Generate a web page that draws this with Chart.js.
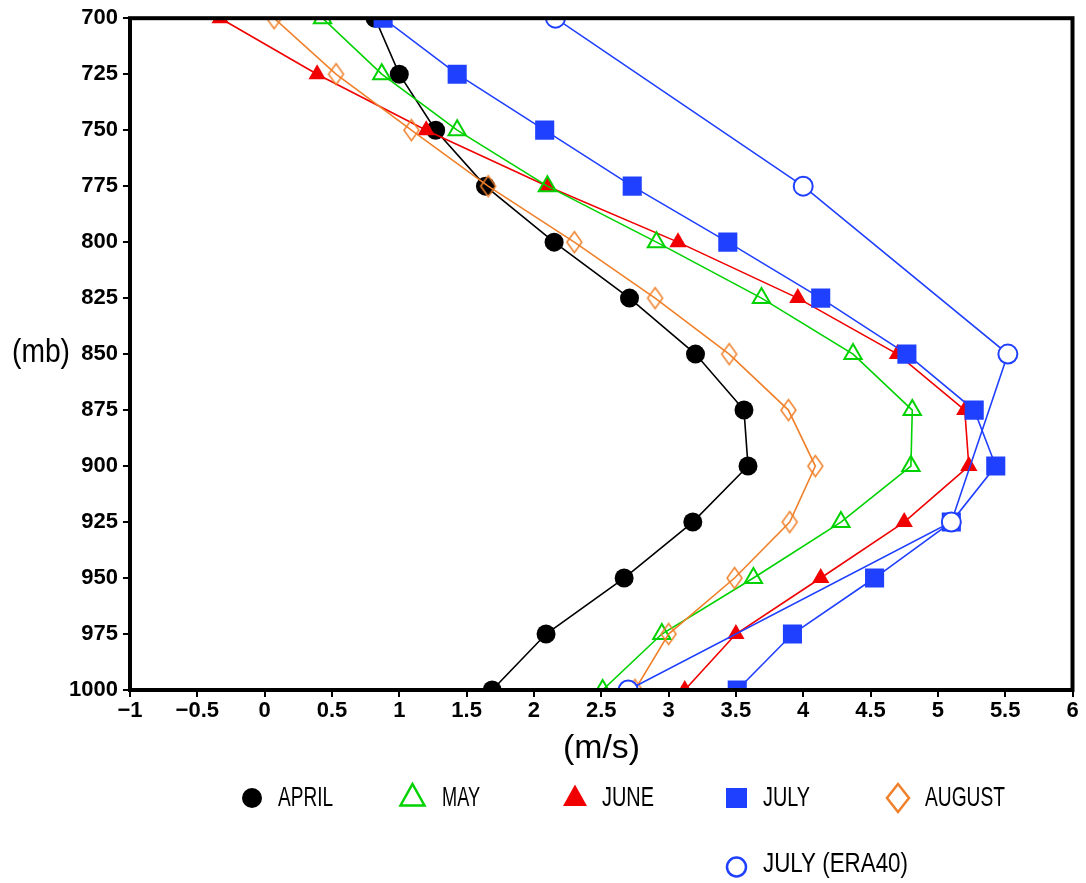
<!DOCTYPE html>
<html>
<head>
<meta charset="utf-8">
<script src="https://cdn.jsdelivr.net/npm/chart.js@4"></script>
<style>
  html, body { margin: 0; padding: 0; background: #fff; }
  #wrap { width: 1086px; height: 883px; }
</style>
</head>
<body>
<div id="wrap"><canvas id="windChart" width="1086" height="883"></canvas></div>
<script>
// pressure levels (mb) and wind speed (m/s) per month
const pressure = [700, 725, 750, 775, 800, 825, 850, 875, 900, 925, 950, 975, 1000];
const april  = [0.82, 1.00, 1.27, 1.64, 2.15, 2.71, 3.20, 3.56, 3.59, 3.18, 2.67, 2.09, 1.69];
const may    = [0.43, 0.87, 1.43, 2.10, 2.91, 3.69, 4.37, 4.81, 4.80, 4.28, 3.63, 2.95, 2.51];
const june   = [-0.33, 0.39, 1.20, 2.10, 3.07, 3.96, 4.70, 5.20, 5.23, 4.75, 4.13, 3.50, 3.12];
const july   = [0.88, 1.43, 2.08, 2.73, 3.44, 4.13, 4.77, 5.27, 5.43, 5.10, 4.53, 3.92, 3.51];
const august = [0.07, 0.53, 1.09, 1.66, 2.30, 2.90, 3.45, 3.89, 4.09, 3.90, 3.49, 3.00, 2.75];
const era40Pressure = [700, 775, 850, 925, 1000];
const julyEra40 = [2.16, 4.00, 5.52, 5.10, 2.70];
const legendLabels = ['APRIL', 'MAY', 'JUNE', 'JULY', 'AUGUST', 'JULY (ERA40)'];

const BLACK = '#000000', GREEN = '#00d200', RED = '#f00000', BLUE = '#2040ff', ORANGE = '#f0802a';

function pts(xs, ys) {
  return ys.map((p, i) => ({ x: xs[i], y: p }));
}

// tall open diamond used for August points
function makeDiamond(w, h, color, lw) {
  const c = document.createElement('canvas');
  c.width = w + 4; c.height = h + 4;
  const g = c.getContext('2d');
  const cx = c.width / 2, cy = c.height / 2;
  g.strokeStyle = color; g.lineWidth = lw;
  g.beginPath();
  g.moveTo(cx, cy - h / 2); g.lineTo(cx + w / 2, cy);
  g.lineTo(cx, cy + h / 2); g.lineTo(cx - w / 2, cy);
  g.closePath(); g.stroke();
  return c;
}
const diamond = makeDiamond(15, 21, ORANGE, 1.5);

function fitText(ctx, text, x, base, size, width) {
  ctx.font = size + 'px "Liberation Sans", sans-serif';
  const m = ctx.measureText(text).width;
  ctx.save();
  ctx.translate(x, base);
  ctx.scale(width / m, 1);
  ctx.textAlign = 'left';
  ctx.textBaseline = 'alphabetic';
  ctx.fillStyle = '#000';
  ctx.fillText(text, 0, 0);
  ctx.restore();
}

const decor = {
  id: 'decor',
  afterDatasetsDraw(chart) {
    const { ctx, chartArea: a } = chart;
    ctx.save();
    ctx.strokeStyle = '#000';
    ctx.lineWidth = 4;
    ctx.strokeRect(a.left, a.top, a.right - a.left, a.bottom - a.top);
    ctx.restore();
  },
  afterDraw(chart) {
    const ctx = chart.ctx;
    // axis titles
    fitText(ctx, '(mb)', 12, 362, 34, 58);
    fitText(ctx, '(m/s)', 563, 758, 34, 77);

    // legend markers
    ctx.save();
    ctx.fillStyle = BLACK;
    ctx.beginPath(); ctx.arc(252, 798, 10, 0, Math.PI * 2); ctx.fill();

    ctx.strokeStyle = GREEN; ctx.lineWidth = 2.5;
    ctx.beginPath(); ctx.moveTo(412.5, 784); ctx.lineTo(424.5, 805.5); ctx.lineTo(400.5, 805.5); ctx.closePath(); ctx.stroke();

    ctx.fillStyle = RED;
    ctx.beginPath(); ctx.moveTo(575, 784.5); ctx.lineTo(587, 806); ctx.lineTo(563, 806); ctx.closePath(); ctx.fill();

    ctx.fillStyle = BLUE;
    ctx.fillRect(726, 788, 21, 20);

    ctx.strokeStyle = ORANGE; ctx.lineWidth = 2.5;
    ctx.beginPath(); ctx.moveTo(898, 784); ctx.lineTo(909, 798); ctx.lineTo(898, 812); ctx.lineTo(887, 798); ctx.closePath(); ctx.stroke();

    ctx.strokeStyle = BLUE; ctx.lineWidth = 2.5;
    ctx.beginPath(); ctx.arc(736.5, 867, 9.5, 0, Math.PI * 2); ctx.stroke();
    ctx.restore();

    // legend texts
    fitText(ctx, legendLabels[0], 278, 806, 28, 55);
    fitText(ctx, legendLabels[1], 442, 806, 28, 38);
    fitText(ctx, legendLabels[2], 602, 806, 28, 52);
    fitText(ctx, legendLabels[3], 763, 806, 28, 47);
    fitText(ctx, legendLabels[4], 925, 806, 28, 80);
    fitText(ctx, legendLabels[5], 763, 872, 28, 145);
  }
};

const common = { showLine: true, borderWidth: 1.6, pointRadius: 10, pointHoverRadius: 10 };

new Chart(document.getElementById('windChart'), {
  type: 'scatter',
  data: {
    datasets: [
      { ...common, label: legendLabels[0], data: pts(april, pressure), order: 5,
        borderColor: BLACK, pointStyle: 'circle', pointRadius: 9.5,
        pointBackgroundColor: BLACK, pointBorderColor: BLACK, pointBorderWidth: 0 },
      { ...common, label: legendLabels[1], data: pts(may, pressure), order: 3,
        borderColor: GREEN, pointStyle: 'triangle', pointRadius: 10,
        pointBackgroundColor: 'rgba(0,0,0,0)', pointBorderColor: GREEN, pointBorderWidth: 2 },
      { ...common, label: legendLabels[2], data: pts(june, pressure), order: 4,
        borderColor: RED, pointStyle: 'triangle', pointRadius: 10,
        pointBackgroundColor: RED, pointBorderColor: RED, pointBorderWidth: 0 },
      { ...common, label: legendLabels[3], data: pts(july, pressure), order: 2,
        borderColor: BLUE, pointStyle: 'rect', pointRadius: 13.5,
        pointBackgroundColor: BLUE, pointBorderColor: BLUE, pointBorderWidth: 0 },
      { ...common, label: legendLabels[4], data: pts(august, pressure), order: 1,
        borderColor: ORANGE, pointStyle: diamond },
      { ...common, label: legendLabels[5], data: pts(julyEra40, era40Pressure), order: 0,
        borderColor: BLUE, pointStyle: 'circle', pointRadius: 9.5,
        pointBackgroundColor: '#ffffff', pointBorderColor: BLUE, pointBorderWidth: 2 }
    ]
  },
  options: {
    responsive: false,
    animation: false,
    layout: { padding: { top: 16, right: 12, bottom: 153, left: 0 } },
    plugins: { legend: { display: false }, tooltip: { enabled: false } },
    scales: {
      x: {
        type: 'linear', min: -1, max: 6,
        border: { display: false },
        grid: { drawOnChartArea: false, drawTicks: true, tickLength: 7, color: '#000', lineWidth: 2 },
        ticks: {
          stepSize: 0.5, autoSkip: false, maxRotation: 0, padding: 1, color: '#000',
          font: { family: '"Liberation Sans", Arial, sans-serif', size: 22, weight: 'bold' },
          callback: v => (v < 0 ? '\u2212' : '') + Math.abs(v)
        },
        afterFit: s => { s.height = 40; }
      },
      y: {
        type: 'linear', min: 700, max: 1000, reverse: true,
        border: { display: false },
        grid: { drawOnChartArea: false, drawTicks: true, tickLength: 7, color: '#000', lineWidth: 2 },
        ticks: {
          stepSize: 25, autoSkip: false, padding: 5, color: '#000',
          font: { family: '"Liberation Sans", Arial, sans-serif', size: 22, weight: 'bold' },
          callback: v => String(v)
        },
        afterFit: s => { s.width = 130; }
      }
    }
  },
  plugins: [decor]
});
</script>
</body>
</html>
